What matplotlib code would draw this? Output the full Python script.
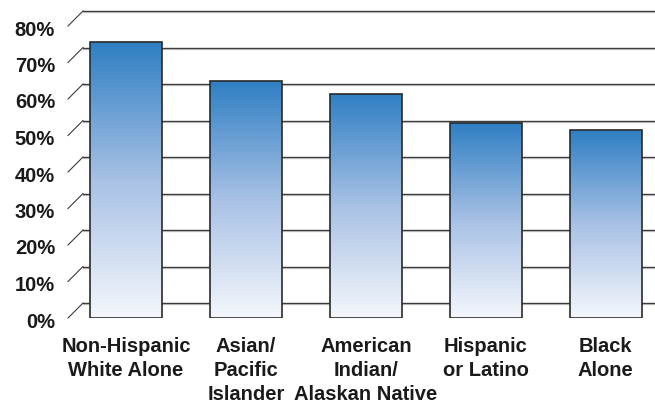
import matplotlib.pyplot as plt
import matplotlib.transforms as mtransforms
from matplotlib.colors import LinearSegmentedColormap
from matplotlib.patches import Rectangle
import numpy as np

categories = ['Non-Hispanic\nWhite Alone', 'Asian/\nPacific\nIslander',
              'American\nIndian/\nAlaskan Native', 'Hispanic\nor Latino', 'Black\nAlone']
values = [75.6, 64.9, 61.4, 53.4, 51.5]
y_ticks = [0, 10, 20, 30, 40, 50, 60, 70, 80]
y_labels = ['0%', '10%', '20%', '30%', '40%', '50%', '60%', '70%', '80%']

plt.rcParams['font.family'] = ['Liberation Sans', 'DejaVu Sans']

fig = plt.figure(figsize=(6.55, 4.05), dpi=100)
# front plane: x 68..655 px, y 0% at 318 px, top of back wall at 11 px
ax = fig.add_axes([68 / 655, 87 / 405, 587 / 655, 307 / 405])
px_per_unit = 292 / 80
ax.set_ylim(0, 307 / px_per_unit)
ax.set_xlim(-0.483, 4.41)
ax.axis('off')
x0, x1 = ax.get_xlim()

# back wall grid, shifted 15 px right and up
depth = mtransforms.ScaledTranslation(15 / 100, 15 / 100, fig.dpi_scale_trans)
shadow = mtransforms.ScaledTranslation(15 / 100, 14 / 100, fig.dpi_scale_trans)
for v in y_ticks:
    ax.plot([x0, x1], [v, v], color='#d0d0d0', lw=1.0, transform=ax.transData + shadow,
            clip_on=False, zorder=1)
    ax.plot([x0, x1], [v, v], color='#3c3c3c', lw=1.0, transform=ax.transData + depth,
            clip_on=False, zorder=1.1)
    # diagonal from the front edge to the back wall
    p0 = ax.transData.transform((x0, v))
    fig.lines.append(plt.Line2D([p0[0], p0[0] + 15], [p0[1], p0[1] + 15],
                                color='#3c3c3c', lw=0.8, transform=None, figure=fig))

# gradient bars
cmap = LinearSegmentedColormap.from_list('bar', ['#f4f7fc', '#a8c1e5', '#2f7fc3'])
grad = np.linspace(0, 1, 256).reshape(-1, 1)
width = 0.6
for i, v in enumerate(values):
    rect = Rectangle((i - width / 2, 0), width, v, facecolor='none', edgecolor='#2a2a2a',
                     lw=1.2, zorder=3)
    ax.add_patch(rect)
    im = ax.imshow(grad, cmap=cmap, aspect='auto', origin='lower',
                   extent=(i - width / 2, i + width / 2, 0, v), zorder=2)
    im.set_clip_path(rect)

ax.set_xlim(x0, x1)
ax.set_ylim(0, 307 / px_per_unit)

# y labels
ylab_tr = mtransforms.blended_transform_factory(ax.transAxes, ax.transData) + \
    mtransforms.ScaledTranslation(-13 / 100, -4 / 100, fig.dpi_scale_trans)
for v, lab in zip(y_ticks, y_labels):
    ax.text(0, v, lab, transform=ylab_tr, ha='right', va='center',
            fontsize=14.5, fontweight='bold', color='#1a1a1a')

# x labels
xlab_tr = ax.transData + mtransforms.ScaledTranslation(0, -19 / 100, fig.dpi_scale_trans)
for i, lab in enumerate(categories):
    ax.text(i, 0, lab, transform=xlab_tr, ha='center', va='top', multialignment='center',
            fontsize=14.5, fontweight='bold', color='#1a1a1a', linespacing=1.34)

fig.savefig('out.png', dpi=100)
